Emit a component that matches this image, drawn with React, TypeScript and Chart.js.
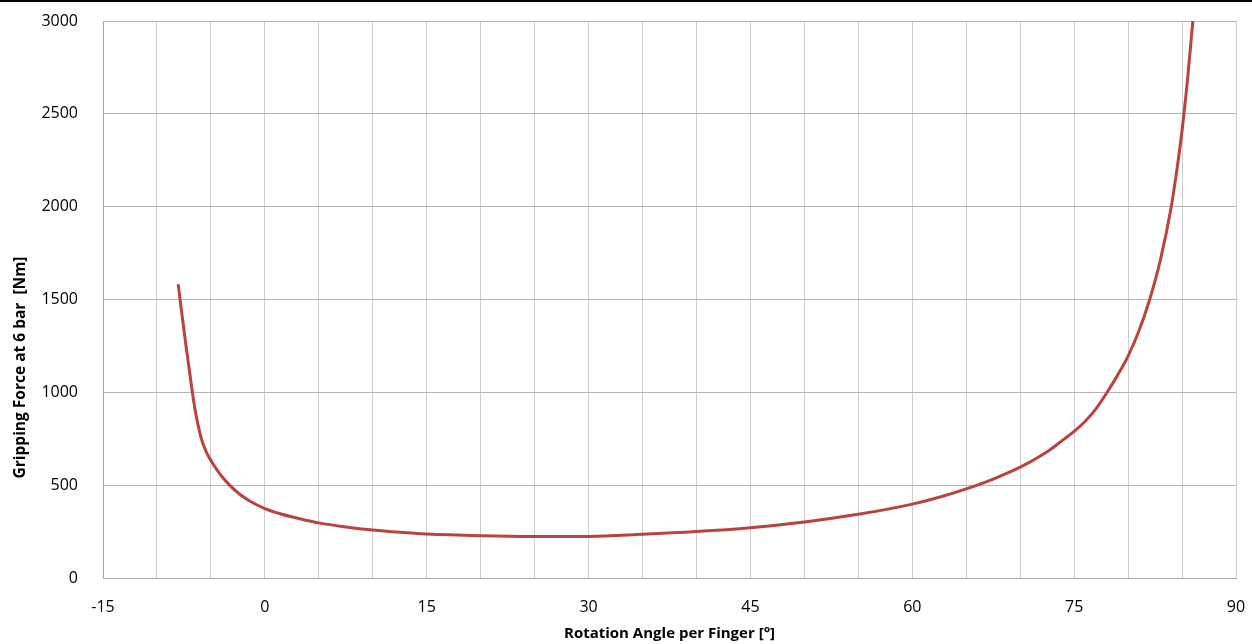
import React, { useEffect, useRef } from 'react';
import { Chart, registerables } from 'chart.js';

Chart.register(...registerables);

const angles = [-8.03, -7.87, -7.56, -7.25, -6.94, -6.73, -6.48, -6.18, -5.86, -5.4, -4.8, -4.0, -3.2, -2.3, -1.4, 0, 1.5, 3.2, 5, 7.5, 10, 12.5, 15, 20, 25, 30, 35, 40, 45, 50, 55, 60, 62.5, 65, 67.5, 70, 72.5, 74, 75, 76, 77, 78, 79, 80, 81, 82, 83, 84, 84.5, 85, 85.5, 86];
const forces = [1582, 1505, 1365, 1225, 1095, 1005, 910, 822, 745, 675, 614, 548, 496, 450, 415, 374, 345, 320, 297, 275, 258, 246, 237, 228, 224, 224, 235, 250, 271, 302, 343, 398, 435, 480, 533, 597, 680, 745, 790, 843, 910, 995, 1090, 1195, 1330, 1500, 1715, 2000, 2190, 2410, 2680, 3000];

const xTickLabels = [-15, 0, 15, 30, 45, 60, 75, 90];
const yTickLabels = [0, 500, 1000, 1500, 2000, 2500, 3000];
const xTitle = 'Rotation Angle per Finger [°]';
const yTitle = 'Gripping Force at 6 bar  [Nm]';

const FONT = "'Open Sans', 'Noto Sans', sans-serif";

const yTitlePlugin = {
  id: 'yTitlePlugin',
  afterDraw(chart: any) {
    const ctx = chart.ctx;
    ctx.save();
    ctx.translate(20.5, 367.5);
    ctx.rotate(-Math.PI / 2);
    ctx.font = `bold 15.5px ${FONT}`;
    ctx.fillStyle = '#000';
    ctx.textAlign = 'center';
    ctx.textBaseline = 'middle';
    ctx.fillText(yTitle, 0, 0);
    ctx.restore();
  },
};

const zeroPad = (s: any) => {
  s.paddingTop = 0;
  s.paddingBottom = 0;
  s.paddingLeft = 0;
  s.paddingRight = 0;
};

export default function App() {
  const ref = useRef<HTMLCanvasElement>(null);
  useEffect(() => {
    document.body.style.margin = '0';
    const chart = new Chart(ref.current as HTMLCanvasElement, {
      type: 'scatter',
      data: {
        datasets: [
          {
            data: angles.map((x, i) => ({ x, y: forces[i] })),
            showLine: true,
            borderColor: '#b9433f',
            backgroundColor: '#b9433f',
            borderWidth: 3,
            pointRadius: 0,
            cubicInterpolationMode: 'monotone',
            fill: false,
          } as any,
        ],
      },
      options: {
        animation: false,
        responsive: false,
        maintainAspectRatio: false,
        layout: { padding: { top: 21, right: 16, left: 0, bottom: 0 } },
        plugins: { legend: { display: false }, tooltip: { enabled: false } },
        scales: {
          x: {
            type: 'linear',
            min: -15,
            max: 90,
            ticks: {
              stepSize: 5,
              autoSkip: false,
              maxRotation: 0,
              padding: 20,
              color: '#000',
              font: { family: FONT, size: 16 },
              callback: (v: any) => (xTickLabels.includes(Number(v)) ? String(v) : ''),
            },
            grid: { color: '#cdcdcd', drawTicks: false, lineWidth: 1 },
            border: { color: '#a6a6a6', width: 1 },
            title: {
              display: true,
              text: xTitle,
              color: '#000',
              font: { family: FONT, size: 15, weight: 'bold' },
              padding: { top: 0, bottom: 1 },
            },
            afterFit: (s: any) => {
              s.height = 66;
              zeroPad(s);
            },
          },
          y: {
            type: 'linear',
            min: 0,
            max: 3000,
            ticks: {
              stepSize: 500,
              padding: 25,
              color: '#000',
              font: { family: FONT, size: 16 },
              callback: (v: any) => (yTickLabels.includes(Number(v)) ? String(v) : ''),
            },
            grid: { color: '#b4b4b4', drawTicks: false, lineWidth: 1 },
            border: { color: '#a6a6a6', width: 1 },
            afterFit: (s: any) => {
              s.width = 103;
              zeroPad(s);
            },
          },
        },
      },
      plugins: [yTitlePlugin],
    });
    return () => chart.destroy();
  }, []);

  return (
    <div style={{ position: 'relative', width: 1252, height: 644, background: '#fff' }}>
      <canvas ref={ref} width={1252} height={644} style={{ display: 'block', width: 1252, height: 644 }} />
      <div style={{ position: 'absolute', left: 0, top: 0, width: 1252, height: 2, background: '#000' }} />
    </div>
  );
}
